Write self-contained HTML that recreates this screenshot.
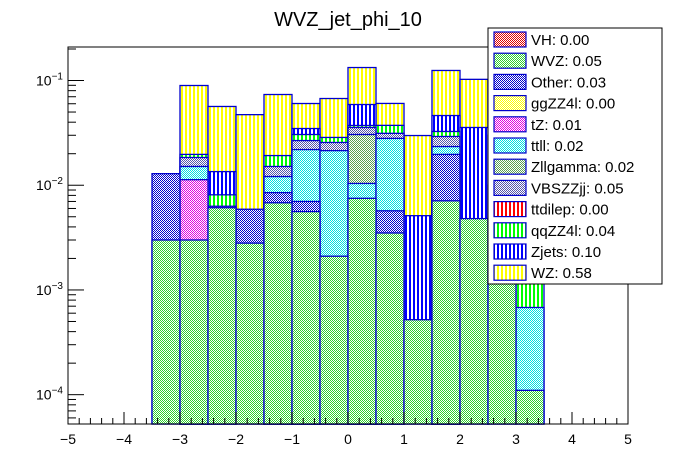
<!DOCTYPE html>
<html><head><meta charset="utf-8"><style>
body{margin:0;background:#fff;}
svg{display:block;font-family:"Liberation Sans",Arial,sans-serif;}
pattern rect{shape-rendering:crispEdges;}
</style></head><body>
<svg id="c" width="696" height="472" viewBox="0 0 696 472">
<defs>
<pattern id="chk-green" width="2" height="2" patternUnits="userSpaceOnUse"><rect width="2" height="2" fill="#fff"/><rect width="1" height="1" fill="#2ed12e"/><rect x="1" y="1" width="1" height="1" fill="#2ed12e"/></pattern>
<pattern id="chk-blue" width="2" height="2" patternUnits="userSpaceOnUse"><rect width="2" height="2" fill="#fff"/><rect width="1" height="1" fill="#0000cc"/><rect x="1" y="1" width="1" height="1" fill="#0000cc"/></pattern>
<pattern id="chk-red" width="2" height="2" patternUnits="userSpaceOnUse"><rect width="2" height="2" fill="#fff"/><rect width="1" height="1" fill="#e00000"/><rect x="1" y="1" width="1" height="1" fill="#e00000"/></pattern>
<pattern id="chk-yellow" width="2" height="2" patternUnits="userSpaceOnUse"><rect width="2" height="2" fill="#fff"/><rect width="1" height="1" fill="#ffff00"/><rect x="1" y="1" width="1" height="1" fill="#ffff00"/></pattern>
<pattern id="chk-magenta" width="2" height="2" patternUnits="userSpaceOnUse"><rect width="2" height="2" fill="#fff"/><rect width="1" height="1" fill="#e000e0"/><rect x="1" y="1" width="1" height="1" fill="#e000e0"/></pattern>
<pattern id="chk-cyan" width="2" height="2" patternUnits="userSpaceOnUse"><rect width="2" height="2" fill="#fff"/><rect width="1" height="1" fill="#00e0e0"/><rect x="1" y="1" width="1" height="1" fill="#00e0e0"/></pattern>
<pattern id="chk-olive" width="2" height="2" patternUnits="userSpaceOnUse"><rect width="2" height="2" fill="#fff"/><rect width="1" height="1" fill="#5aa050"/><rect x="1" y="1" width="1" height="1" fill="#5aa050"/></pattern>
<pattern id="chk-purple" width="2" height="2" patternUnits="userSpaceOnUse"><rect width="2" height="2" fill="#fff"/><rect width="1" height="1" fill="#5555aa"/><rect x="1" y="1" width="1" height="1" fill="#5555aa"/></pattern>
<pattern id="str-red" width="4" height="4" patternUnits="userSpaceOnUse"><rect width="4" height="4" fill="#fff"/><rect x="1" width="2" height="4" fill="#ff0000"/></pattern>
<pattern id="str-green" width="4" height="4" patternUnits="userSpaceOnUse"><rect width="4" height="4" fill="#fff"/><rect x="1" width="2" height="4" fill="#00ff00"/></pattern>
<pattern id="str-blue" width="4" height="4" patternUnits="userSpaceOnUse"><rect width="4" height="4" fill="#fff"/><rect x="1" width="2" height="4" fill="#0000ff"/></pattern>
<pattern id="str-yellow" width="4" height="4" patternUnits="userSpaceOnUse"><rect width="4" height="4" fill="#fff"/><rect x="1" width="2" height="4" fill="#ffff00"/></pattern>
</defs>
<text x="348" y="26" font-size="20" text-anchor="middle">WVZ_jet_phi_10</text>
<g id="bars"></g>
<g id="axes"></g>
<g id="legend"></g>
</svg>
<script>
// bins: 14 bins from -3.5 to 3.5
const binEdges = [-3.5,-3,-2.5,-2,-1.5,-1,-0.5,0,0.5,1,1.5,2,2.5,3,3.5];
const seriesNames = ["WVZ","Other","tZ","ttll","Zllgamma","VBSZZjj","qqZZ4l","Zjets","WZ"];
const WVZ      = [0.0030,0.0030,0.0061,0.0028,0.0068,0.0056,0.0021,0.0075,0.0035,0.00052,0.0071,0.0048,0.010,0.00011];
const Other    = [0.0099,0,0,0.0031,0.0017,0.0014,0,0,0.0022,0,0.0126,0,0,0];
const tZ       = [0,0.0083,0,0,0,0,0,0,0,0,0,0,0,0];
const ttll     = [0,0.0038,0,0,0.0036,0.0149,0.0193,0.0029,0.0223,0,0.0037,0,0,0.00057];
const Zllgamma = [0,0,0,0,0,0,0,0.0201,0,0,0,0,0,0];
const VBSZZjj  = [0,0.0033,0.0002,0,0.0030,0.0048,0.0042,0.0051,0.0033,0,0.0058,0,0,0];
const qqZZ4l   = [0,0.0013,0.0018,0,0.0041,0.0038,0.0030,0.0016,0.0060,0,0.0034,0,0,0.0005];
const Zjets    = [0,0,0.0054,0,0,0.0043,0,0.0218,0,0.0046,0.0137,0.0308,0.02,0];
const WZ       = [0,0.0699,0.043,0.0413,0.0543,0.0255,0.0387,0.074,0.0231,0.0247,0.0784,0.067,0.07,0];
const xTicks = [-5,-4,-3,-2,-1,0,1,2,3,4,5];
const yDecades = [-1,-2,-3,-4];
const legendLabels = ["VH: 0.00","WVZ: 0.05","Other: 0.03","ggZZ4l: 0.00","tZ: 0.01","ttll: 0.02","Zllgamma: 0.02","VBSZZjj: 0.05","ttdilep: 0.00","qqZZ4l: 0.04","Zjets: 0.10","WZ: 0.58"];

const NS="http://www.w3.org/2000/svg";
const X0=68,X1=628,Y0=47,Y1=424,LMIN=-4.28,LMAX=-0.68;
function xs(v){return X0+(v+5)/10*(X1-X0);}
function ys(v){if(v<=0)return Y1;const l=Math.log10(v);return Math.max(Y0,Math.min(Y1,Y1-(l-LMIN)/(LMAX-LMIN)*(Y1-Y0)));}
function mk(tag,attrs,parent){const e=document.createElementNS(NS,tag);for(const k in attrs)e.setAttribute(k,attrs[k]);parent.appendChild(e);return e;}

const series=[WVZ,Other,tZ,ttll,Zllgamma,VBSZZjj,qqZZ4l,Zjets,WZ];
const fills=["chk-green","chk-blue","chk-magenta","chk-cyan","chk-olive","chk-purple","str-green","str-blue","str-yellow"];
const bars=document.getElementById('bars');
const nb=binEdges.length-1;
for(let s=series.length-1;s>=0;s--){
  for(let b=0;b<nb;b++){
    let cum=0;for(let k=0;k<=s;k++)cum+=series[k][b];
    if(series[s][b]<=0)continue;
    const x=xs(binEdges[b]),w=xs(binEdges[b+1])-x,y=ys(cum);
    const r=mk('rect',{x:x,y:y,width:w,height:Y1-y,fill:'url(#'+fills[s]+')',stroke:'#0000cc','stroke-width':1.3},bars);
    
    
  }
}

const ax=document.getElementById('axes');
const frame=mk('rect',{x:X0,y:Y0,width:X1-X0,height:Y1-Y0,fill:'none',stroke:'#000','stroke-width':1},ax);


for(let i=0;i<=50;i++){
  const v=-5+i*0.2,x=xs(v),maj=(i%5===0);
  mk('line',{x1:x,x2:x,y1:Y1,y2:Y1-(maj?12:6),stroke:'#000','stroke-width':1},ax);
}
xTicks.forEach(v=>{
  const t=mk('text',{x:xs(v),y:Y1+20,'font-size':14,'text-anchor':'middle'},ax);
  t.textContent=(v<0?'\u2212'+(-v):String(v));
  
  
});
for(let d=-5;d<=-1;d++){
  for(let m=1;m<=9;m++){
    const v=m*Math.pow(10,d),l=Math.log10(v);
    if(l<LMIN||l>LMAX)continue;
    const y=ys(v);
    mk('line',{x1:X0,x2:X0+(m===1?16:8),y1:y,y2:y,stroke:'#000','stroke-width':1},ax);
  }
}
yDecades.forEach(d=>{
  const y=ys(Math.pow(10,d));
  const t=mk('text',{x:36,y:y+5,'font-size':14},ax);
  
  
  t.textContent='10';
  const s=mk('tspan',{dy:-6,'font-size':10},t);s.textContent='\u2212'+(-d);
});

const lg=document.getElementById('legend');
const LX=488,LY=28,LW=174,LH=256;
const box=mk('rect',{x:LX,y:LY,width:LW,height:LH,fill:'#fff',stroke:'#000','stroke-width':1},lg);


const lfills=["chk-red","chk-green","chk-blue","chk-yellow","chk-magenta","chk-cyan","chk-olive","chk-purple","str-red","str-green","str-blue","str-yellow"];
legendLabels.forEach((lab,i)=>{
  const cy=LY+11+i*21.2;
  const g=mk('g',{},lg);
  
  
  mk('rect',{x:LX+6,y:cy-7,width:32,height:15,fill:'url(#'+lfills[i]+')',stroke:'#0000cc','stroke-width':1.2},g);
  const t=mk('text',{x:LX+43,y:cy+6,'font-size':15},g);t.textContent=lab;
});
</script>
</body></html>
